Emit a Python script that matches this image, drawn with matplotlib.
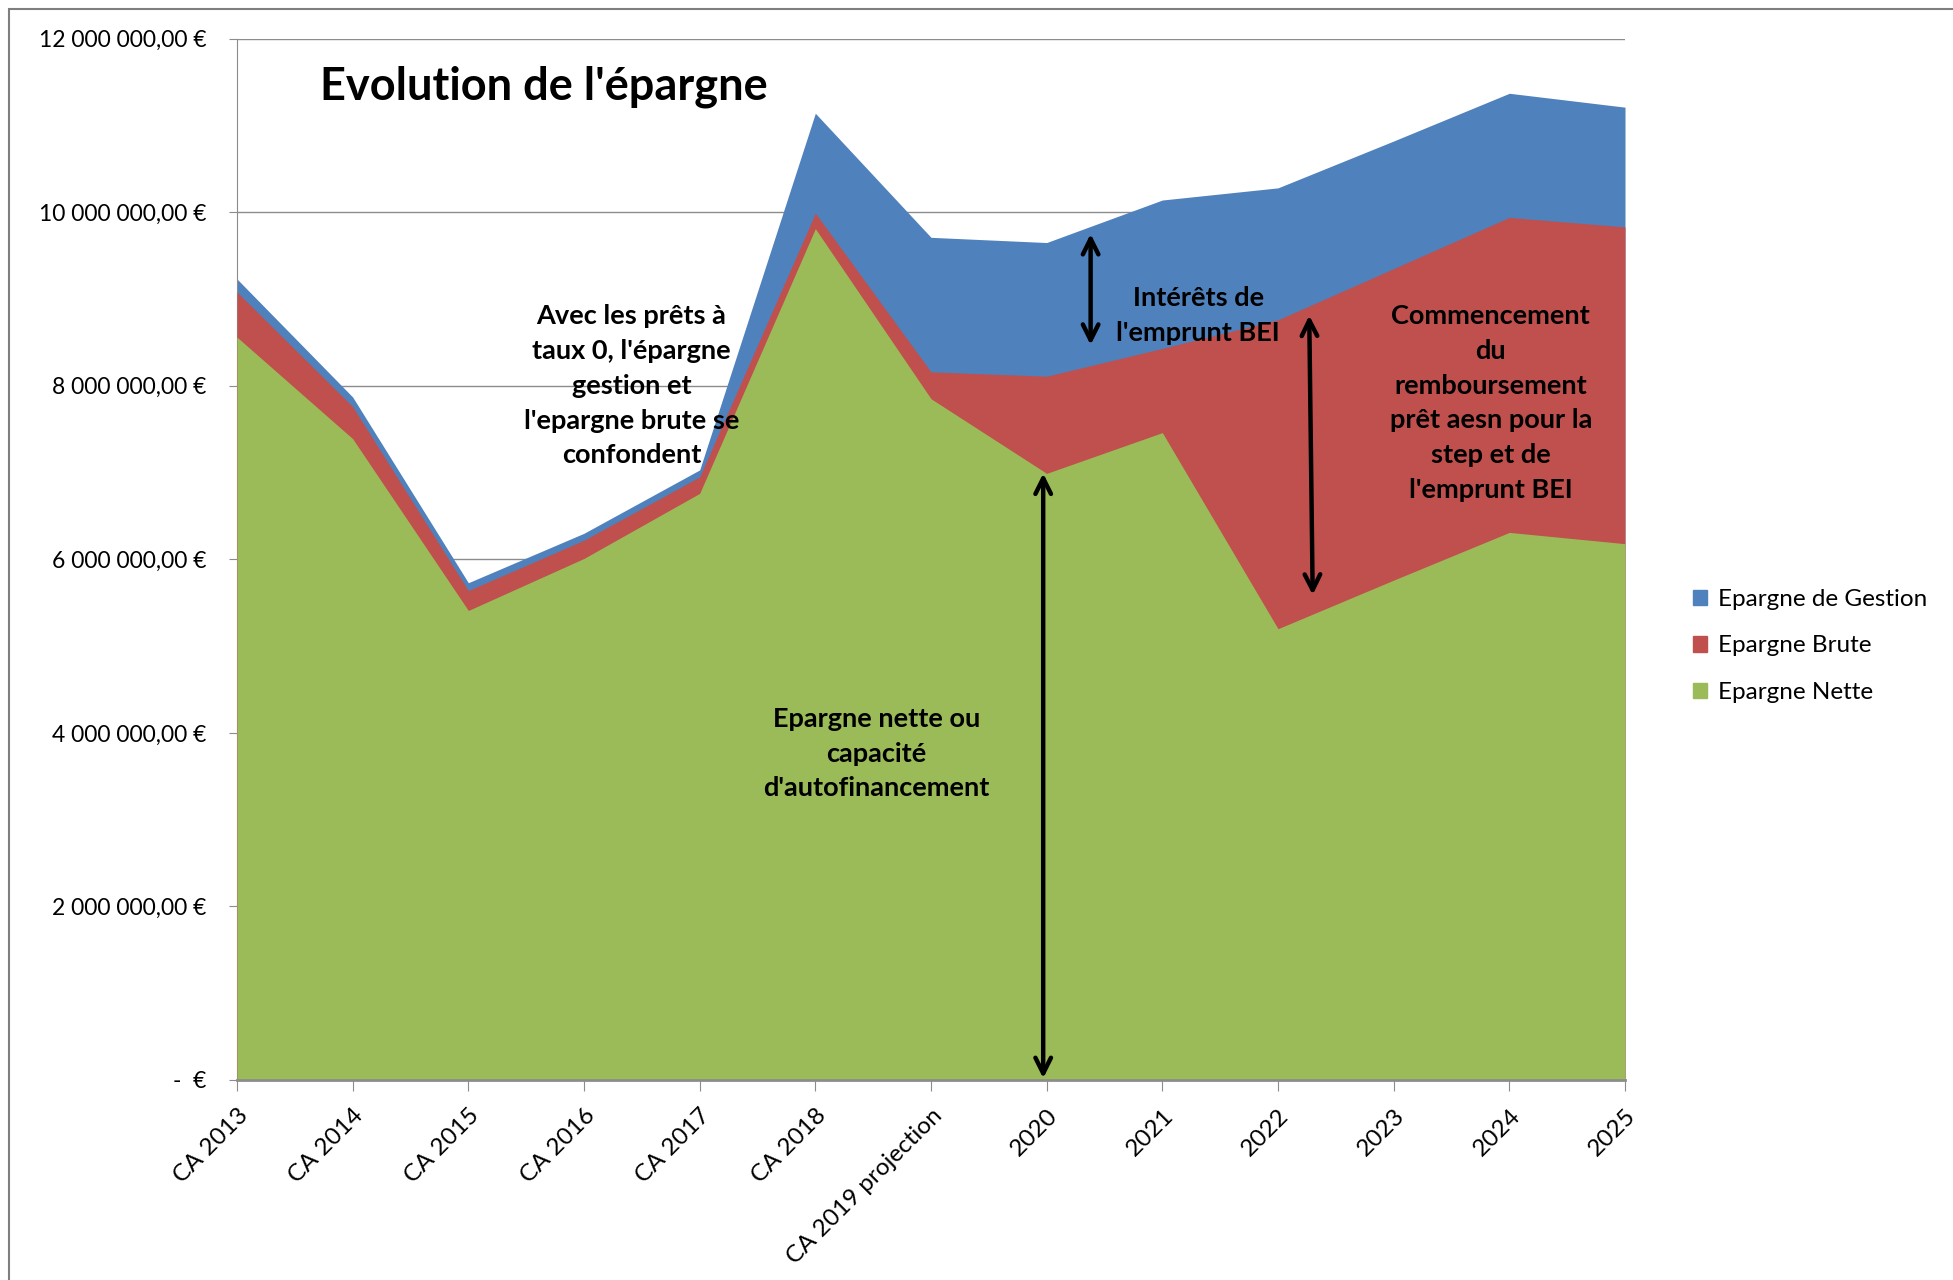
import numpy as np
import matplotlib
matplotlib.use("Agg")
import matplotlib.pyplot as plt
from matplotlib.patches import Patch, Rectangle

plt.rcParams['font.family'] = ['Lato', 'DejaVu Sans']

# data (euros)
categories = ["CA 2013", "CA 2014", "CA 2015", "CA 2016", "CA 2017", "CA 2018",
              "CA 2019 projection", "2020", "2021", "2022", "2023", "2024", "2025"]
epargne_gestion = [9.23e6, 7.87e6, 5.73e6, 6.30e6, 7.03e6, 11.14e6, 9.71e6,
                   9.65e6, 10.14e6, 10.28e6, 10.82e6, 11.37e6, 11.21e6]
epargne_brute = [9.08e6, 7.76e6, 5.64e6, 6.22e6, 6.95e6, 9.99e6, 8.16e6,
                 8.11e6, 8.43e6, 8.76e6, 9.35e6, 9.94e6, 9.83e6]
epargne_nette = [8.56e6, 7.39e6, 5.41e6, 6.01e6, 6.76e6, 9.81e6, 7.85e6,
                 6.99e6, 7.46e6, 5.20e6, 5.76e6, 6.31e6, 6.18e6]
series_names = ["Epargne de Gestion", "Epargne Brute", "Epargne Nette"]
ytick_values = [0, 2e6, 4e6, 6e6, 8e6, 10e6, 12e6]
ytick_labels = ["-  €", "2 000 000,00 €", "4 000 000,00 €", "6 000 000,00 €",
                "8 000 000,00 €", "10 000 000,00 €", "12 000 000,00 €"]

c_blue = "#4F81BD"
c_red = "#C0504D"
c_green = "#9BBB59"
grid_c = "#8C8C8C"

fig = plt.figure(figsize=(19.53, 12.8), dpi=100)
ax = fig.add_axes([237 / 1953, 1 - 1080 / 1280, (1625 - 237) / 1953, (1080 - 38.6) / 1280])

x = np.arange(len(categories))
ax.fill_between(x, 0, epargne_gestion, color=c_blue, lw=0, zorder=2)
ax.fill_between(x, 0, epargne_brute, color=c_red, lw=0, zorder=3)
ax.fill_between(x, 0, epargne_nette, color=c_green, lw=0, zorder=4)

ax.set_xlim(0, len(categories) - 1)
ax.set_ylim(0, 12e6)
ax.set_yticks(ytick_values)
ax.set_yticklabels(ytick_labels, fontsize=16.5)
ax.yaxis.grid(True, color=grid_c, lw=1)
ax.set_axisbelow(True)
ax.set_xticks(x)
ax.set_xticklabels(categories, fontsize=17.5, rotation=45, ha='right',
                   rotation_mode='anchor')
ax.tick_params(axis='y', length=6, color=grid_c, pad=16)
ax.tick_params(axis='x', length=8, color=grid_c, pad=10)
for s in ['top', 'right']:
    ax.spines[s].set_visible(False)
ax.spines['left'].set_color(grid_c)
ax.spines['bottom'].set_color(grid_c)
ax.spines['bottom'].set_linewidth(2)
ax.spines['bottom'].set_zorder(6)

ax.text(0.72, 11.45e6, "Evolution de l'épargne", fontsize=32.5, fontweight='bold',
        ha='left', va='center', zorder=10)

note_kw = dict(fontsize=19.5, fontweight='bold', ha='center', va='center',
               linespacing=1.54, zorder=10)
ax.text(3.41, 8.0e6, "Avec les prêts à\ntaux 0, l'épargne\ngestion et\nl'epargne brute se\nconfondent",
        **note_kw)
ax.text(8.31, 8.81e6, "Intérêts de\nl'emprunt BEI", **note_kw)
ax.text(10.84, 7.80e6, "Commencement\ndu\nremboursement\nprêt aesn pour la\nstep et de\nl'emprunt BEI",
        **note_kw)
ax.text(5.53, 3.76e6, "Epargne nette ou\ncapacité\nd'autofinancement", **note_kw)

arrow_kw = dict(arrowstyle='<->', lw=3.2, color='black', mutation_scale=28,
                shrinkA=0, shrinkB=0)
ax.annotate("", xy=(7.38, 9.75e6), xytext=(7.38, 8.47e6), arrowprops=arrow_kw, zorder=9)
ax.annotate("", xy=(9.27, 8.81e6), xytext=(9.30, 5.59e6), arrowprops=arrow_kw, zorder=9)
ax.annotate("", xy=(6.97, 6.99e6), xytext=(6.97, 0.02e6), arrowprops=arrow_kw, zorder=9)

handles = [Patch(color=c_blue), Patch(color=c_red), Patch(color=c_green)]
fig.legend(handles, series_names, loc='center left',
           bbox_to_anchor=(1671 / 1953, 1 - 646 / 1280), frameon=False, fontsize=17.5,
           handlelength=0.6, handleheight=0.6, handletextpad=0.45, labelspacing=1.05)

# outer chart frame
fig.patches.append(Rectangle((9 / 1953, -0.1), 1.2, 1.1 - 9 / 1280, transform=fig.transFigure,
                             fill=False, edgecolor='#7F7F7F', lw=1.5))

fig.savefig("out.png", dpi=100)
